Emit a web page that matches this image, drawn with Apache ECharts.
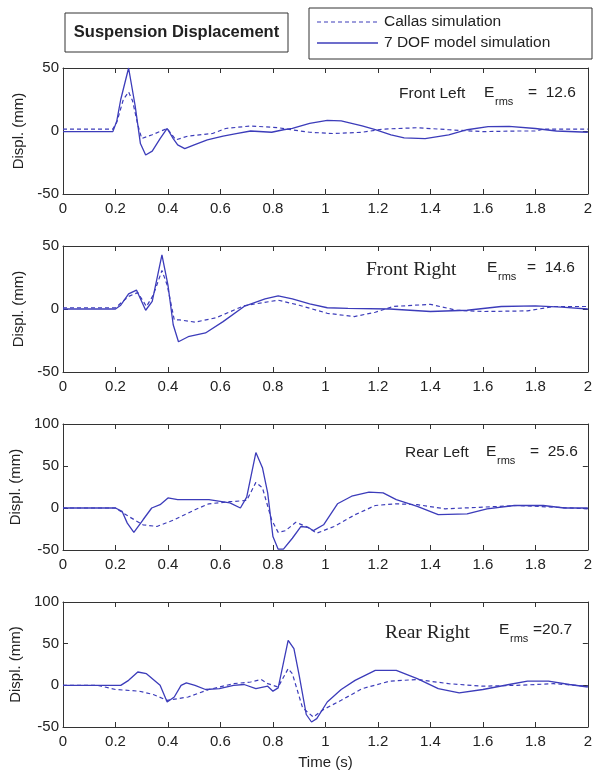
<!DOCTYPE html>
<html>
<head>
<meta charset="utf-8">
<script src="https://cdn.jsdelivr.net/npm/echarts@6/dist/echarts.min.js"></script>
<style>
html,body{margin:0;padding:0;background:#fff;}
#chart{width:595px;height:771px;}
</style>
</head>
<body>
<div id="chart"></div>
<script>
// ---- data (time in s, displacement in mm) ----
var xTicks = [0, 0.2, 0.4, 0.6, 0.8, 1, 1.2, 1.4, 1.6, 1.8, 2];
var seriesNames = ['Callas simulation', '7 DOF model simulation'];
var panelNames = ['Front Left', 'Front Right', 'Rear Left', 'Rear Right'];
var panelErms = ['12.6', '14.6', '25.6', '20.7'];
var panelYMin = [-50, -50, -50, -50];
var panelYMax = [50, 50, 100, 100];

var flCallas = [[0,1.5],[0.19,1.5],[0.205,7],[0.23,25],[0.25,31],[0.265,24],[0.285,5],[0.30,-6],[0.34,-3],[0.397,2],[0.43,-7],[0.477,-4],[0.57,-2],[0.62,2],[0.715,4],[0.82,2.6],[0.87,1],[0.94,-1],[1.03,-2],[1.14,-1],[1.22,1.5],[1.35,2.6],[1.47,1],[1.6,-0.5],[1.73,0],[1.8,0],[1.83,1.5],[2.0,1.5]];
var flDof = [[0,-0.5],[0.19,-0.5],[0.205,8],[0.22,25],[0.25,50],[0.275,20],[0.295,-10],[0.315,-19],[0.34,-16],[0.37,-6],[0.397,2],[0.42,-6],[0.437,-11],[0.464,-14],[0.5,-11],[0.55,-7],[0.61,-4],[0.66,-2],[0.715,0],[0.795,-1],[0.84,1],[0.874,2],[0.94,6],[1.007,8.5],[1.06,8],[1.14,4],[1.19,1],[1.25,-3],[1.30,-5.5],[1.38,-6],[1.47,-3],[1.54,1],[1.62,3.4],[1.7,3.7],[1.8,2],[1.88,0],[2.0,-1]];

var frCallas = [[0,1],[0.2,1],[0.25,10],[0.285,13],[0.318,2],[0.344,11],[0.377,30.5],[0.397,19],[0.424,-8.6],[0.444,-8.6],[0.503,-10.4],[0.583,-7],[0.69,2.6],[0.82,7],[0.90,3],[1.007,-3.4],[1.11,-6],[1.19,-2.6],[1.258,2],[1.40,3.7],[1.50,-1],[1.60,-2],[1.77,-1.5],[1.87,2],[2.0,2]];
var frDof = [[0,0],[0.2,0],[0.22,3],[0.25,12],[0.28,15],[0.315,-1],[0.34,6],[0.377,43],[0.40,19],[0.42,-12.5],[0.44,-26],[0.477,-22],[0.543,-19],[0.61,-10],[0.69,2],[0.77,8],[0.82,10.4],[0.874,8],[0.94,4],[1.007,1],[1.086,0.5],[1.245,0],[1.40,-2],[1.54,-1],[1.67,2],[1.8,2.5],[1.9,1.5],[2.0,0]];

var rlCallas = [[0,0],[0.2,0],[0.25,-10],[0.305,-20],[0.358,-22],[0.424,-14],[0.503,-2],[0.556,5],[0.636,7.5],[0.70,9],[0.735,30.5],[0.76,24],[0.795,-14],[0.82,-29],[0.848,-27],[0.887,-17],[0.927,-22],[0.967,-30],[1.033,-22],[1.113,-8],[1.19,3],[1.27,5],[1.35,4],[1.456,-1],[1.60,1],[1.735,3],[1.87,1],[2.0,-1]];
var rlDof = [[0,0],[0.2,0],[0.225,-4],[0.245,-18],[0.27,-29],[0.305,-14],[0.338,0],[0.37,4],[0.40,12],[0.437,10],[0.556,10],[0.636,6],[0.676,0],[0.70,13],[0.735,66],[0.76,48],[0.78,18],[0.80,-34],[0.82,-49],[0.84,-49],[0.874,-36],[0.907,-22],[0.934,-23],[0.954,-27],[0.993,-20],[1.046,5],[1.10,14],[1.166,19],[1.22,18],[1.27,10],[1.35,2],[1.43,-8],[1.54,-7],[1.616,-1],[1.72,3],[1.83,3],[1.91,0],[2.0,0]];

var rrCallas = [[0,0],[0.13,0],[0.146,-1],[0.2,-5],[0.29,-7],[0.344,-11],[0.397,-18],[0.477,-14],[0.556,-5],[0.65,2],[0.715,4],[0.755,7],[0.78,2],[0.82,-2],[0.858,20],[0.874,14],[0.913,-27],[0.954,-38],[0.993,-29],[1.06,-18],[1.14,-4],[1.245,5],[1.35,7],[1.47,2],[1.60,-1],[1.73,0],[1.87,2],[2.0,-1]];
var rrDof = [[0,0],[0.22,0],[0.25,6],[0.285,16],[0.318,14],[0.37,0],[0.397,-20],[0.424,-14],[0.45,0],[0.47,3],[0.503,0],[0.543,-5],[0.596,-4],[0.65,0],[0.69,1],[0.735,-4],[0.78,-1],[0.80,-7],[0.82,-3],[0.858,54],[0.88,44],[0.90,12],[0.927,-35],[0.947,-44],[0.967,-40],[1.007,-20],[1.06,-5],[1.113,6],[1.19,18],[1.27,18],[1.35,8],[1.43,-4],[1.51,-9],[1.60,-5],[1.70,1],[1.77,5],[1.85,5],[1.93,1],[2.0,-2]];

var callasData = [flCallas, frCallas, rlCallas, rrCallas];
var dofData = [flDof, frDof, rlDof, rrDof];

// ---- layout / style ----
var LINE = '#3c3cba';
var AX = '#333';
var TXT = '#222';
var FONT = '"Liberation Sans", Arial, sans-serif';
var SERIF = '"Liberation Serif", "Times New Roman", serif';
var gridTops = [68, 246, 424, 602];
var gridHeights = [126, 126, 126, 128];

var grids = [], xAxes = [], yAxes = [], series = [];
for (var i = 0; i < 4; i++) {
  grids.push({left: 63, right: 5, top: gridTops[i], height: gridHeights[i], containLabel: false});
  var xCommon = {
    type: 'value', gridIndex: i, min: xTicks[0], max: xTicks[xTicks.length - 1], interval: 0.2,
    axisLine: {show: true, onZero: false, lineStyle: {color: AX, width: 1}},
    axisTick: {show: true, inside: true, length: 5, lineStyle: {color: AX}},
    splitLine: {show: false}
  };
  xAxes.push(Object.assign({}, xCommon, {
    position: 'bottom',
    name: i === 3 ? 'Time (s)' : '', nameLocation: 'middle', nameGap: 28,
    nameTextStyle: {fontFamily: FONT, fontSize: 15, color: TXT},
    axisLabel: {show: true, fontFamily: FONT, fontSize: 15, color: TXT, margin: 7,
      formatter: function (v) { return String(+v.toFixed(1)); }}
  }));
  xAxes.push(Object.assign({}, xCommon, {position: 'top', axisLabel: {show: false}}));
  var yCommon = {
    type: 'value', gridIndex: i, min: panelYMin[i], max: panelYMax[i], interval: 50,
    axisLine: {show: true, onZero: false, lineStyle: {color: AX, width: 1}},
    axisTick: {show: true, inside: true, length: 5, lineStyle: {color: AX}},
    splitLine: {show: false}
  };
  yAxes.push(Object.assign({}, yCommon, {
    position: 'left',
    name: 'Displ. (mm)', nameLocation: 'middle', nameGap: 35,
    nameTextStyle: {fontFamily: FONT, fontSize: 15, color: TXT},
    axisLabel: {show: true, fontFamily: FONT, fontSize: 15, color: TXT, margin: 4}
  }));
  yAxes.push(Object.assign({}, yCommon, {position: 'right', axisLabel: {show: false}}));

  series.push({
    name: seriesNames[0], type: 'line', xAxisIndex: 2 * i, yAxisIndex: 2 * i,
    data: callasData[i], showSymbol: false, symbol: 'none', silent: true,
    lineStyle: {color: LINE, width: 1.2, type: [4, 3]}
  });
  series.push({
    name: seriesNames[1], type: 'line', xAxisIndex: 2 * i, yAxisIndex: 2 * i,
    data: dofData[i], showSymbol: false, symbol: 'none', silent: true,
    lineStyle: {color: LINE, width: 1.3, type: 'solid'}
  });
}

// ---- annotations ----
function txt(x, y, s, size, family, extra) {
  return Object.assign({
    type: 'text', x: x, y: y, silent: true,
    style: {text: s, fontSize: size, fontFamily: family, fill: TXT,
      textAlign: 'left', textVerticalAlign: 'middle'}
  }, extra || {});
}
var annot = [
  {label: panelNames[0], lx: 399, ly: 94, fam: FONT, size: 15.5, ex: 484, ey: 93, val: '=  ' + panelErms[0], vx: 528},
  {label: panelNames[1], lx: 366, ly: 270, fam: SERIF, size: 19.5, ex: 487, ey: 268, val: '=  ' + panelErms[1], vx: 527},
  {label: panelNames[2], lx: 405, ly: 453, fam: FONT, size: 15.5, ex: 486, ey: 452, val: '=  ' + panelErms[2], vx: 530},
  {label: panelNames[3], lx: 385, ly: 633, fam: SERIF, size: 19.5, ex: 499, ey: 630, val: '=' + panelErms[3], vx: 533}
];
var graphics = [
  {type: 'rect', shape: {x: 65, y: 13, width: 223, height: 39}, style: {fill: '#fff', stroke: AX, lineWidth: 1}, silent: true},
  {type: 'text', x: 176.5, y: 32.5, silent: true, style: {text: 'Suspension Displacement', fontSize: 16.5, fontWeight: 'bold', fontFamily: FONT, fill: TXT, textAlign: 'center', textVerticalAlign: 'middle'}},
  {type: 'rect', shape: {x: 309, y: 8, width: 283, height: 51}, style: {fill: '#fff', stroke: AX, lineWidth: 1}, silent: true},
  {type: 'line', shape: {x1: 317, y1: 22, x2: 378, y2: 22}, style: {stroke: LINE, lineWidth: 1.2, lineDash: [4, 3]}, silent: true},
  {type: 'line', shape: {x1: 317, y1: 43, x2: 378, y2: 43}, style: {stroke: LINE, lineWidth: 1.3}, silent: true},
  txt(384, 22, seriesNames[0], 15.5, FONT),
  txt(384, 43, seriesNames[1], 15.5, FONT)
];
annot.forEach(function (a) {
  graphics.push(txt(a.lx, a.ly, a.label, a.size, a.fam));
  graphics.push(txt(a.ex, a.ey, 'E', 15.5, FONT));
  graphics.push(txt(a.ex + 11, a.ey + 9, 'rms', 11, FONT));
  graphics.push(txt(a.vx, a.ey, a.val, 15.5, FONT));
});

var chart = echarts.init(document.getElementById('chart'), null, {renderer: 'canvas'});
chart.setOption({
  animation: false,
  backgroundColor: '#fff',
  grid: grids,
  xAxis: xAxes,
  yAxis: yAxes,
  series: series,
  graphic: graphics
});
</script>
</body>
</html>
